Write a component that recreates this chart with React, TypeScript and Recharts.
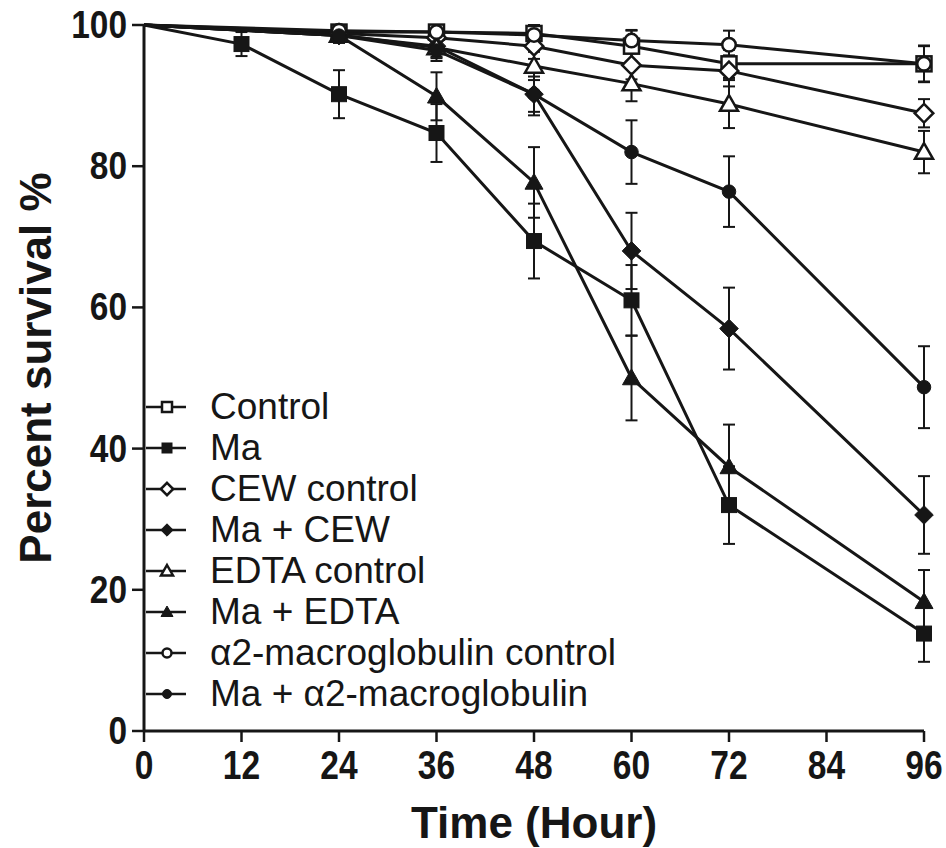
import React from 'react';
import { LineChart, Line, XAxis, YAxis, ErrorBar, Legend, Label } from 'recharts';

// sampling times (Ma alone was also scored at 12 h)
const hours = [0, 24, 36, 48, 60, 72, 96];
const hoursMa = [0, 12, 24, 36, 48, 60, 72, 96];

const xTicks = [0, 12, 24, 36, 48, 60, 72, 84, 96];
const yTicks = [0, 20, 40, 60, 80, 100];

// percent survival (mean) and error
const controlVals = [100, 99, 99, 98.8, 97, 94.5, 94.5];
const controlErr = [0, 1, 1, 1.2, 2.2, 2, 2.6];

const maVals = [100, 97.3, 90.2, 84.7, 69.4, 61, 32, 13.8];
const maErr = [0, 1.7, 3.4, 4.1, 5.3, 5, 5.5, 4];

const cewCtrlVals = [100, 98.8, 98.2, 97, 94.3, 93.5, 87.5];
const cewCtrlErr = [0, 1, 1.2, 1.8, 2, 2.2, 2];

const maCewVals = [100, 98.5, 97, 90.2, 68, 57, 30.6];
const maCewErr = [0, 1, 1.5, 3, 5.4, 5.8, 5.5];

const edtaCtrlVals = [100, 98.6, 96.8, 94.2, 91.7, 88.8, 82];
const edtaCtrlErr = [0, 1, 1.5, 2, 2.5, 3.4, 3];

const maEdtaVals = [100, 98.5, 89.9, 77.7, 50, 37.4, 18.3];
const maEdtaErr = [0, 1, 3.4, 5, 6, 6, 4.5];

const a2CtrlVals = [100, 99.2, 99, 98.6, 97.8, 97.2, 94.5];
const a2CtrlErr = [0, 0.8, 0.8, 1, 1.5, 2, 2.5];

const maA2Vals = [100, 98.5, 96.4, 90.2, 82, 76.4, 48.7];
const maA2Err = [0, 1, 1.5, 2.5, 4.5, 5, 5.8];

type Shape = 'square' | 'diamond' | 'triangle' | 'circle';

const series = [
  { id: 'control', name: 'Control', shape: 'square' as Shape, filled: false, t: hours, v: controlVals, e: controlErr },
  { id: 'ma', name: 'Ma', shape: 'square' as Shape, filled: true, t: hoursMa, v: maVals, e: maErr },
  { id: 'cewCtrl', name: 'CEW control', shape: 'diamond' as Shape, filled: false, t: hours, v: cewCtrlVals, e: cewCtrlErr },
  { id: 'maCew', name: 'Ma + CEW', shape: 'diamond' as Shape, filled: true, t: hours, v: maCewVals, e: maCewErr },
  { id: 'edtaCtrl', name: 'EDTA control', shape: 'triangle' as Shape, filled: false, t: hours, v: edtaCtrlVals, e: edtaCtrlErr },
  { id: 'maEdta', name: 'Ma + EDTA', shape: 'triangle' as Shape, filled: true, t: hours, v: maEdtaVals, e: maEdtaErr },
  { id: 'a2Ctrl', name: 'α2-macroglobulin control', shape: 'circle' as Shape, filled: false, t: hours, v: a2CtrlVals, e: a2CtrlErr },
  { id: 'maA2', name: 'Ma + α2-macroglobulin', shape: 'circle' as Shape, filled: true, t: hours, v: maA2Vals, e: maA2Err },
];

const INK = '#161616';
const FONT = '"Liberation Sans", Arial, Helvetica, sans-serif';

const Marker = ({ cx, cy, shape, filled, s }: { cx: number; cy: number; shape: Shape; filled: boolean; s: number }) => {
  const fill = filled ? INK : '#fff';
  const sw = filled ? 1 : 2.5;
  if (shape === 'square')
    return <rect x={cx - s / 2} y={cy - s / 2} width={s} height={s} fill={fill} stroke={INK} strokeWidth={sw} />;
  if (shape === 'diamond') {
    const h = s * 0.62;
    return <polygon points={`${cx},${cy - h} ${cx + h},${cy} ${cx},${cy + h} ${cx - h},${cy}`} fill={fill} stroke={INK} strokeWidth={sw} />;
  }
  if (shape === 'triangle') {
    const h = s * 0.6;
    return <polygon points={`${cx},${cy - h} ${cx + h},${cy + h * 0.75} ${cx - h},${cy + h * 0.75}`} fill={fill} stroke={INK} strokeWidth={sw} />;
  }
  return <circle cx={cx} cy={cy} r={s * 0.45} fill={fill} stroke={INK} strokeWidth={sw} />;
};

const XTick = (props: any) => {
  const { x, y, payload } = props;
  return (
    <g transform={`translate(${x},${y})`}>
      <text transform="scale(0.84,1)" textAnchor="middle" dy={35} fontSize={40} fontWeight="bold" fontFamily={FONT} fill={INK}>
        {payload.value}
      </text>
    </g>
  );
};

const YTick = (props: any) => {
  const { x, y, payload } = props;
  return (
    <g transform={`translate(${x - 3},${y})`}>
      <text transform="scale(0.88,1)" textAnchor="end" dy={13} fontSize={38} fontWeight="bold" fontFamily={FONT} fill={INK}>
        {payload.value}
      </text>
    </g>
  );
};

const renderLegend = () => (
  <div style={{ fontFamily: FONT, fontSize: 37, color: INK }}>
    {series.map((s) => (
      <div key={s.id} style={{ display: 'flex', alignItems: 'center', height: 41, whiteSpace: 'nowrap' }}>
        <svg width={44} height={20} style={{ marginRight: 20 }}>
          <line x1={0} y1={10} x2={40} y2={10} stroke={INK} strokeWidth={2.5} />
          <Marker cx={21} cy={10} shape={s.shape} filled={s.filled} s={10} />
        </svg>
        <span>{s.name}</span>
      </div>
    ))}
  </div>
);

export default function App() {
  return (
    <div style={{ position: 'absolute', left: 0, top: 0, background: '#fff' }}>
      <LineChart width={946} height={848} margin={{ top: 25, right: 22, bottom: 0, left: 0 }}>
        <XAxis
          type="number"
          dataKey="t"
          domain={[0, 96]}
          ticks={xTicks}
          interval={0}
          height={117}
          axisLine={{ stroke: INK, strokeWidth: 3 }}
          tickLine={{ stroke: INK, strokeWidth: 2.5 }}
          tickSize={11}
          tick={<XTick />}
        >
          <Label
            content={() => (
              <text x={534} y={838} textAnchor="middle" fontSize={44} fontWeight="bold" fontFamily={FONT} fill={INK}>
                Time (Hour)
              </text>
            )}
          />
        </XAxis>
        <YAxis
          type="number"
          domain={[0, 100]}
          ticks={yTicks}
          interval={0}
          width={144}
          axisLine={{ stroke: INK, strokeWidth: 3 }}
          tickLine={{ stroke: INK, strokeWidth: 2.5 }}
          tickSize={12}
          tick={<YTick />}
        >
          <Label
            content={() => (
              <text x={51} y={368} transform="rotate(-90, 51, 368)" textAnchor="middle" fontSize={44} fontWeight="bold" fontFamily={FONT} fill={INK}>
                Percent survival %
              </text>
            )}
          />
        </YAxis>
        <Legend
          layout="vertical"
          align="center"
          verticalAlign="middle"
          content={renderLegend}
          wrapperStyle={{ left: 146, top: 386, width: 'auto', height: 'auto' }}
        />
        {series.map((s) => (
          <Line
            key={s.id}
            data={s.t.map((t, i) => ({ t, [s.id]: s.v[i], [s.id + 'Err']: s.e[i] }))}
            dataKey={s.id}
            name={s.name}
            type="linear"
            stroke={INK}
            strokeWidth={3}
            isAnimationActive={false}
            dot={(p: any) =>
              p.payload.t === 0 ? (
                <g key={`${s.id}-d${p.index}`} />
              ) : (
                <g key={`${s.id}-d${p.index}`}>
                  <Marker cx={p.cx} cy={p.cy} shape={s.shape} filled={s.filled} s={15} />
                </g>
              )
            }
            activeDot={false}
          >
            <ErrorBar dataKey={s.id + 'Err'} width={6} stroke={INK} strokeWidth={2} direction="y" />
          </Line>
        ))}
      </LineChart>
    </div>
  );
}
